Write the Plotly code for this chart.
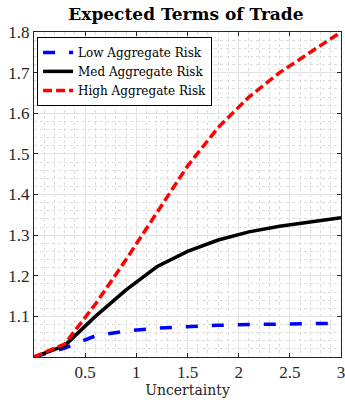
import plotly.graph_objects as go

# Uncertainty grid and expected terms of trade for each aggregate-risk level
uncertainty = [0.0, 0.3, 0.6, 0.9, 1.2, 1.5, 1.8, 2.1, 2.4, 2.7, 3.0]
low_risk = [1.000, 1.022, 1.052, 1.064, 1.071, 1.075, 1.078, 1.080, 1.081, 1.082, 1.083]
med_risk = [1.000, 1.028, 1.100, 1.165, 1.222, 1.260, 1.288, 1.308, 1.322, 1.333, 1.343]
high_risk = [1.000, 1.032, 1.130, 1.240, 1.355, 1.470, 1.565, 1.640, 1.700, 1.750, 1.800]

series_names = ["Low Aggregate Risk", "Med Aggregate Risk", "High Aggregate Risk"]
x_ticks = [0.5, 1, 1.5, 2, 2.5, 3]
x_tick_labels = ["0.5", "1", "1.5", "2", "2.5", "3"]
y_ticks = [1.1, 1.2, 1.3, 1.4, 1.5, 1.6, 1.7, 1.8]
y_tick_labels = ["1.1", "1.2", "1.3", "1.4", "1.5", "1.6", "1.7", "1.8"]

NUM_FONT = "Liberation Serif"
TEXT_FONT = "DejaVu Serif"
AXIS_COLOR = "#262626"

fig = go.Figure()
fig.add_trace(go.Scatter(
    x=uncertainty, y=low_risk, mode="lines", name=series_names[0],
    line=dict(color="#0000ff", width=3.5, dash="12px,14px"),
))
fig.add_trace(go.Scatter(
    x=uncertainty, y=med_risk, mode="lines", name=series_names[1],
    line=dict(color="#000000", width=3.5),
))
fig.add_trace(go.Scatter(
    x=uncertainty, y=high_risk, mode="lines", name=series_names[2],
    line=dict(color="#ff0000", width=3.5, dash="9px,4px"),
))

axis_common = dict(
    showline=True, linecolor=AXIS_COLOR, linewidth=1, mirror="ticks",
    ticks="inside", ticklen=4, tickcolor=AXIS_COLOR,
    showgrid=True, gridcolor="#e3e3e3", gridwidth=1,
    zeroline=False, automargin=False, ticklabeloverflow="allow",
    tickfont=dict(family=NUM_FONT, size=17, color=AXIS_COLOR),
)

fig.update_xaxes(
    range=[0, 3], tickmode="array", tickvals=x_ticks, ticktext=x_tick_labels,
    title=dict(text="Uncertainty", font=dict(family=TEXT_FONT, size=14, color=AXIS_COLOR), standoff=2),
    minor=dict(dtick=0.1, tick0=0, showgrid=True, gridcolor="#dcdcdc", griddash="dot", gridwidth=1),
    **axis_common,
)
fig.update_yaxes(
    range=[1.0, 1.8], tickmode="array", tickvals=y_ticks, ticktext=y_tick_labels,
    minor=dict(dtick=0.02, tick0=1.0, showgrid=True, gridcolor="#dcdcdc", griddash="dot", gridwidth=1),
    **axis_common,
)

fig.update_layout(
    width=345, height=402,
    margin=dict(l=34, r=4, t=32, b=45),
    paper_bgcolor="white", plot_bgcolor="white",
    title=dict(
        text="<b>Expected Terms of Trade</b>",
        font=dict(family=TEXT_FONT, size=17, color="#000000"),
        x=0.539, xanchor="center", y=0.966, yanchor="middle",
        xref="container", yref="container",
    ),
    legend=dict(
        x=0.01, y=0.985, xanchor="left", yanchor="top",
        bgcolor="white", bordercolor="#000000", borderwidth=1,
        font=dict(family=TEXT_FONT, size=12, color="#000000"),
        itemwidth=30, tracegroupgap=0,
    ),
    showlegend=True,
)

fig.write_html("out.html")
